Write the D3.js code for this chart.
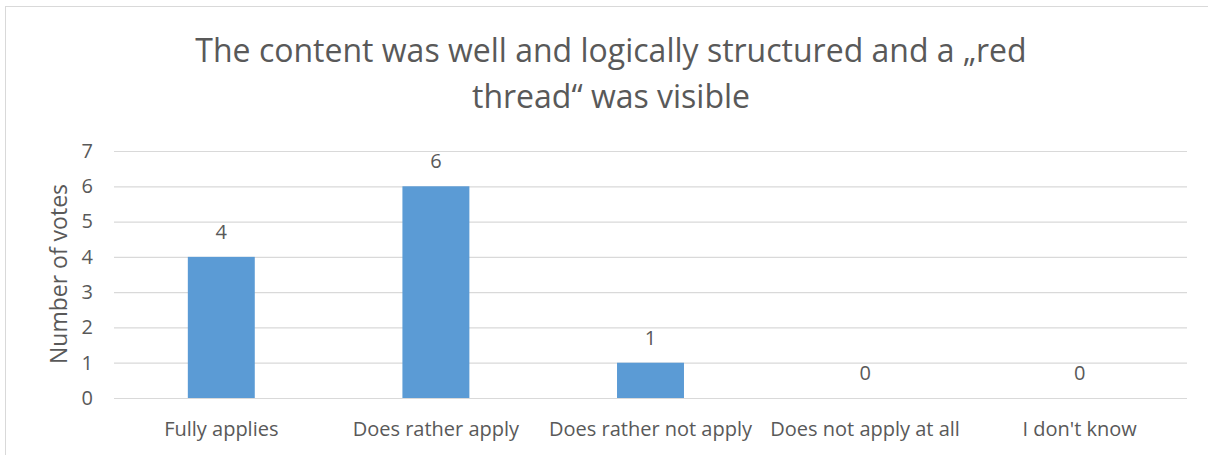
<!DOCTYPE html>
<html><head><meta charset="utf-8">
<script src="https://cdn.jsdelivr.net/npm/d3@7"></script>
<style>
html,body{margin:0;padding:0;background:#fff;}
svg{display:block;}
text{font-family:"Open Sans",sans-serif;fill:#595959;}
</style></head>
<body>
<svg id="c" width="1208" height="455"></svg>
<script>
(function(){
const categories = ["Fully applies","Does rather apply","Does rather not apply","Does not apply at all","I don't know"];
const votes = [4,6,1,0,0];
const yTicks = [0,1,2,3,4,5,6,7];
const titleLines = ["The content was well and logically structured and a \u201Ered","thread\u201C was visible"];
const yTitle = "Number of votes";

const svg = d3.select("#c");
const W = 1208, H = 455;
svg.append("rect").attr("x",5.5).attr("y",6.5).attr("width",W).attr("height",H)
  .attr("fill","#fff").attr("stroke","#d9d9d9").attr("stroke-width",1);

const mLeft = 114, mRight = 1187, mTop = 151, mBottom = 398;
const x = d3.scaleBand().domain(categories).range([mLeft,mRight]).paddingInner(0.688).paddingOuter(0.344);
const y = d3.scaleLinear().domain([0,7]).range([mBottom,mTop]);

const gy = svg.append("g").attr("transform",`translate(${mLeft},0)`)
  .call(d3.axisLeft(y).tickValues(yTicks).tickSize(-(mRight-mLeft)).tickFormat(""));
gy.select(".domain").remove();
gy.selectAll("line").attr("stroke","#d9d9d9").attr("stroke-width",1.2);

const yl = svg.append("g").attr("transform",`translate(${mLeft-21},0)`)
  .call(d3.axisLeft(y).tickValues(yTicks).tickFormat(d3.format("d")).tickSize(0).tickPadding(0));
yl.select(".domain").remove();
yl.selectAll("text").attr("font-size",20).attr("fill","#595959").attr("font-family","Open Sans");

svg.selectAll("rect.bar").data(votes).join("rect").attr("class","bar")
  .attr("x",(d,i)=>x(categories[i])).attr("width",x.bandwidth())
  .attr("y",d=>y(d)).attr("height",d=>y(0)-y(d)).attr("fill","#5b9bd5");

svg.selectAll("text.lbl").data(votes).join("text").attr("class","lbl")
  .attr("x",(d,i)=>x(categories[i])+x.bandwidth()/2).attr("y",d=>y(d)-18)
  .attr("text-anchor","middle").attr("font-size",20).text(d=>d);

const xl = svg.append("g").attr("transform",`translate(0,${mBottom})`)
  .call(d3.axisBottom(x).tickSize(0).tickPadding(0));
xl.select(".domain").remove();
xl.selectAll("text").attr("font-size",20).attr("fill","#595959").attr("font-family","Open Sans")
  .attr("dy",0).attr("y",38);

svg.append("text").attr("transform",`translate(67,274) rotate(-90)`)
  .attr("text-anchor","middle").attr("font-size",23).text(yTitle);

svg.selectAll("text.title").data(titleLines).join("text").attr("class","title")
  .attr("x",611).attr("y",(d,i)=>62+i*46).attr("text-anchor","middle")
  .attr("font-size",32).text(d=>d);
})();
</script>
</body></html>
